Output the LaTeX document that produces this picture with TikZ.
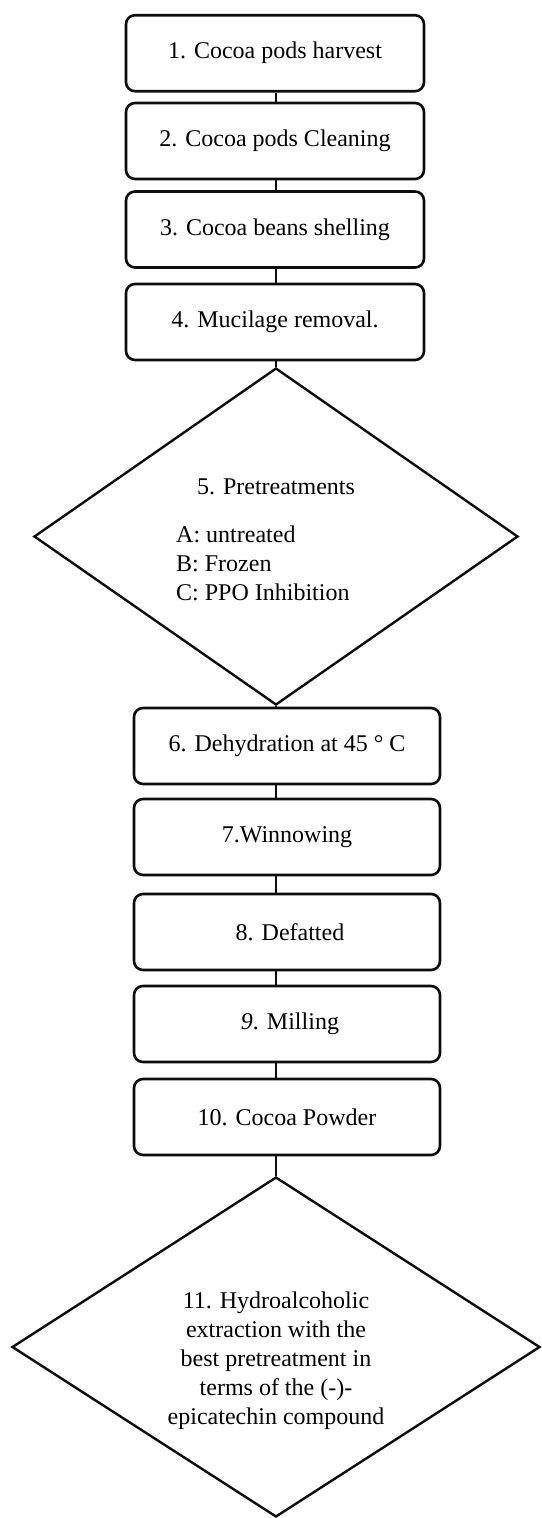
\documentclass[tikz,border=0pt]{standalone}
\usepackage{fontspec}
\setmainfont{Liberation Serif}
\usetikzlibrary{shapes.geometric}
\begin{document}
\begin{tikzpicture}[x=1pt,y=-1pt,
  stepbox/.style={draw=black!95, line width=2.6pt, rounded corners=9pt,
    minimum width=298pt, minimum height=76pt, inner sep=0pt,
    font=\fontsize{24}{28.5}\selectfont},
  lowbox/.style={stepbox, minimum width=306pt},
  decide/.style={draw=black!95, shape=diamond, line width=2.4pt,
    inner sep=0pt},
  txt/.style={inner sep=0pt, font=\fontsize{24}{29}\selectfont},
  link/.style={draw=black!95, line width=2pt}
]
\useasboundingbox (0,0) rectangle (541,1518);
\fill[white] (0,0) rectangle (541,1518);

\node[stepbox] (b1) at (275,53.2) {1. Cocoa pods harvest};
\node[stepbox] (b2) at (275,141) {2. Cocoa pods Cleaning};
\node[stepbox] (b3) at (275,229.5) {3. Cocoa beans shelling};
\node[stepbox] (b4) at (275,322) {4. Mucilage removal.};
\node[decide, minimum width=484pt, minimum height=337pt] (d5) at (276,536.5) {};
\node[txt] (t5) at (276,487) {5. Pretreatments};
\node[txt, anchor=west, align=left] (t5b) at (176,563) {A: untreated\\B: Frozen\\C: PPO Inhibition};
\node[lowbox] (b6) at (287,746) {6. Dehydration at 45 ° C};
\node[lowbox] (b7) at (287,837) {7.Winnowing};
\node[lowbox] (b8) at (287,932) {\hspace*{6pt}8. Defatted};
\node[lowbox] (b9) at (287,1024) {\hspace*{6pt}\textit{9}. Milling};
\node[lowbox] (b10) at (287,1117) {10. Cocoa Powder};
\node[decide, minimum width=528pt, minimum height=340pt] (d11) at (276,1347) {};
\node[txt, align=center] (t11) at (276,1361)
  {11. Hydroalcoholic\\extraction with the\\best pretreatment in\\terms of the (-)-\\epicatechin compound};

\draw[link] (b1.south -| d5.north) -- (b2.north -| d5.north);
\draw[link] (b2.south -| d5.north) -- (b3.north -| d5.north);
\draw[link] (b3.south -| d5.north) -- (b4.north -| d5.north);
\draw[link] (b4.south -| d5.north) -- (d5.north);
\draw[link] (d5.south) -- (b6.north -| d5.south);
\draw[link] (b6.south -| d5.south) -- (b7.north -| d5.south);
\draw[link] (b7.south -| d5.south) -- (b8.north -| d5.south);
\draw[link] (b8.south -| d5.south) -- (b9.north -| d5.south);
\draw[link] (b9.south -| d5.south) -- (b10.north -| d5.south);
\draw[link] (b10.south -| d11.north) -- (d11.north);
\end{tikzpicture}
\end{document}
